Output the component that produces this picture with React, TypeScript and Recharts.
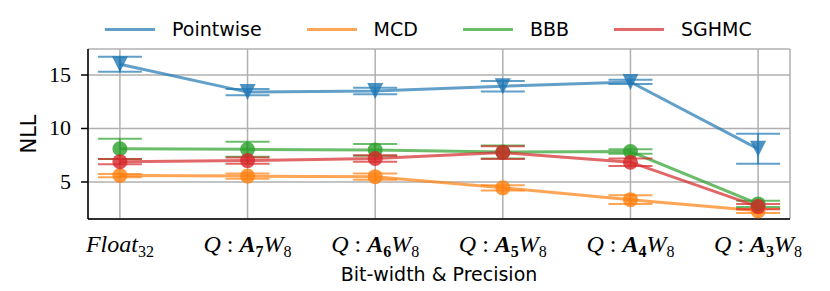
import React from "react";
import { LineChart, Line, XAxis, YAxis, CartesianGrid, ErrorBar, Legend, Label } from "recharts";

const BLUE = "#1f77b4";
const ORANGE = "#ff7f0e";
const GREEN = "#2ca02c";
const RED = "#d62728";

const SERIF = "'Liberation Serif', serif";
const SANS = "'DejaVu Sans', sans-serif";

// x categories (index on the x axis)
const categories = ["Float32", "Q:A7W8", "Q:A6W8", "Q:A5W8", "Q:A4W8", "Q:A3W8"];

const pointwise = [16.0, 13.4, 13.5, 13.95, 14.35, 8.1];
const pointwiseErr = [0.7, 0.3, 0.3, 0.5, 0.2, 1.4];
const mcd = [5.6, 5.55, 5.5, 4.45, 3.35, 2.3];
const mcdErr = [0.15, 0.25, 0.3, 0.25, 0.4, 0.2];
const bbb = [8.1, 8.05, 8.0, 7.8, 7.85, 2.95];
const bbbErr = [0.95, 0.7, 0.55, 0.6, 0.2, 0.3];
const sghmc = [6.9, 7.0, 7.2, 7.75, 6.85, 2.7];
const sghmcErr = [0.25, 0.3, 0.3, 0.6, 0.35, 0.25];

const yTicks = [5, 10, 15];

const data = categories.map((c, i) => ({
  x: i,
  name: c,
  pointwise: pointwise[i],
  pointwiseErr: pointwiseErr[i],
  mcd: mcd[i],
  mcdErr: mcdErr[i],
  bbb: bbb[i],
  bbbErr: bbbErr[i],
  sghmc: sghmc[i],
  sghmcErr: sghmcErr[i],
}));

const series = [
  { key: "pointwise", err: "pointwiseErr", name: "Pointwise", color: BLUE },
  { key: "mcd", err: "mcdErr", name: "MCD", color: ORANGE },
  { key: "bbb", err: "bbbErr", name: "BBB", color: GREEN },
  { key: "sghmc", err: "sghmcErr", name: "SGHMC", color: RED },
];

function XTick({ x, y, payload }: any) {
  const label = categories[payload.value] ?? "";
  const sub = 16;
  let content;
  if (label.startsWith("Float")) {
    content = (
      <>
        <tspan fontStyle="italic">Float</tspan>
        <tspan fontSize={sub} dy={5}>32</tspan>
      </>
    );
  } else {
    const m = label.match(/Q:A(\d)W(\d)/) || ["", "", ""];
    content = (
      <>
        <tspan fontStyle="italic">Q</tspan>
        <tspan>{"\u2005:\u2005"}</tspan>
        <tspan fontStyle="italic" fontWeight="bold">A</tspan>
        <tspan fontWeight="bold" fontSize={sub} dy={5}>{m[1]}</tspan>
        <tspan fontStyle="italic" dy={-5}>W</tspan>
        <tspan fontSize={sub} dy={5}>{m[2]}</tspan>
      </>
    );
  }
  return (
    <text x={x} y={y + 25} textAnchor="middle" fontFamily={SERIF} fontSize={24} fill="#000">
      {content}
    </text>
  );
}

function YTick({ x, y, payload }: any) {
  return (
    <text x={x - 8} y={y + 7} textAnchor="end" fontFamily={SERIF} fontSize={22} fill="#000">
      {payload.value}
    </text>
  );
}

function Circle({ cx, cy, color }: any) {
  if (cx == null || cy == null) return null;
  return <circle cx={cx} cy={cy} r={7.5} fill={color} fillOpacity={0.8} stroke="none" />;
}

function TriangleDown({ cx, cy }: any) {
  if (cx == null || cy == null) return null;
  const s = 8;
  return (
    <polygon
      points={`${cx - s},${cy - s} ${cx + s},${cy - s} ${cx},${cy + s}`}
      fill={BLUE}
      fillOpacity={0.8}
      stroke="none"
    />
  );
}

function LegendContent({ payload }: any) {
  const items = [...(payload || [])].sort(
    (a: any, b: any) => series.findIndex((s) => s.name === a.value) - series.findIndex((s) => s.name === b.value)
  );
  return (
    <div style={{ display: "flex", alignItems: "center", paddingLeft: 105, height: 58, fontFamily: SANS, fontSize: 19, color: "#000" }}>
      {items.map((p: any, i: number) => (
        <div key={i} style={{ display: "flex", alignItems: "center", marginRight: 45 }}>
          <div style={{ width: 50, height: 3, background: p.color, opacity: 0.7, marginRight: 17 }} />
          <span>{p.value}</span>
        </div>
      ))}
    </div>
  );
}

function NllLabel({ viewBox }: any) {
  const cx = 29;
  const cy = viewBox.y + viewBox.height / 2;
  return (
    <text x={cx} y={cy} transform={`rotate(-90, ${cx}, ${cy})`} textAnchor="middle" dominantBaseline="central" fontFamily={SANS} fontSize={21} fill="#000">
      NLL
    </text>
  );
}

function XLabel({ viewBox }: any) {
  return (
    <text x={viewBox.x + viewBox.width / 2} y={viewBox.y + 62} textAnchor="middle" fontFamily={SANS} fontSize={19} fill="#000">
      Bit-width &amp; Precision
    </text>
  );
}

export default function App() {
  return (
    <div style={{ position: "absolute", left: 0, top: 0, width: 830, height: 291, background: "#fff" }}>
      <LineChart width={830} height={291} data={data} margin={{ top: 49, right: 40, left: 0, bottom: 0 }}>
        <CartesianGrid stroke="#b0b0b0" strokeWidth={1.5} />
        <XAxis
          type="number"
          dataKey="x"
          domain={[-0.25, 5.25]}
          ticks={[0, 1, 2, 3, 4, 5]}
          allowDataOverflow
          height={72}
          tickLine={false}
          axisLine={{ stroke: "#000", strokeWidth: 1.5 }}
          tick={<XTick />}
          interval={0}
        >
          <Label content={<XLabel />} />
        </XAxis>
        <YAxis
          type="number"
          domain={[1.54, 17.43]}
          ticks={yTicks}
          allowDataOverflow
          width={88}
          tickSize={7}
          tickLine={{ stroke: "#000", strokeWidth: 1.5 }}
          axisLine={{ stroke: "#000", strokeWidth: 1.5 }}
          tick={<YTick />}
        >
          <Label content={<NllLabel />} />
        </YAxis>
        <Legend content={<LegendContent />} verticalAlign="top" wrapperStyle={{ position: "absolute", top: 0, left: 0, width: 830, height: 0, overflow: "visible" }} />
        {series.map((s) => (
          <Line
            key={s.key}
            type="linear"
            dataKey={s.key}
            name={s.name}
            stroke={s.color}
            strokeWidth={3}
            strokeOpacity={0.7}
            isAnimationActive={false}
            dot={s.key === "pointwise" ? <TriangleDown /> : <Circle color={s.color} />}
            activeDot={false}
          >
            <ErrorBar dataKey={s.err} direction="y" width={22} stroke={s.color} strokeWidth={2} strokeOpacity={0.7} />
          </Line>
        ))}
      </LineChart>
    </div>
  );
}
